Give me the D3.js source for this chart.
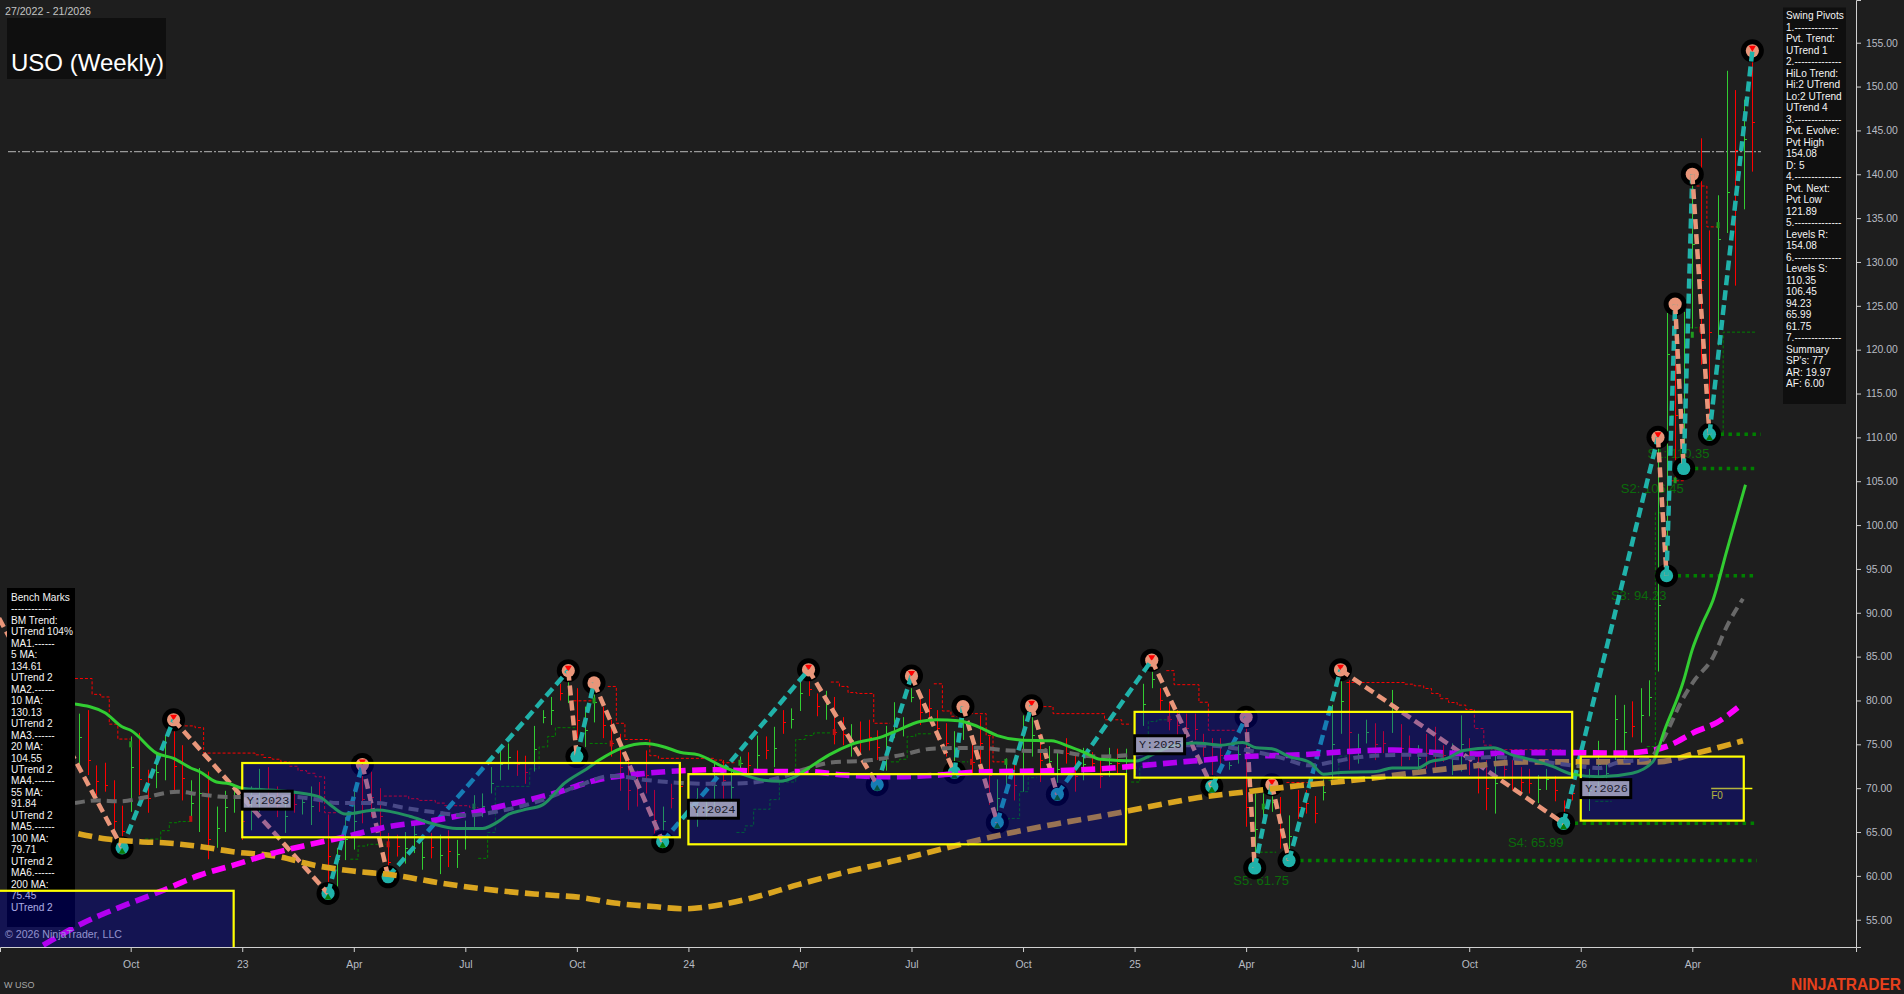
<!DOCTYPE html>
<html>
<head>
<meta charset="utf-8">
<title>USO (Weekly)</title>
<script src="https://cdn.jsdelivr.net/npm/d3@7"></script>
<style>
  html, body { margin: 0; padding: 0; background: #1e1e1e; overflow: hidden; }
  text { font-family: "Liberation Sans", Arial, sans-serif; }
</style>
</head>
<body>
<div id="chart"></div>
<script>
// weeks are counted from the Oct 2022 tick
var xTickWeeks = [0, 13, 26, 39, 52, 65, 78, 91, 104, 117, 130, 143, 156, 169, 182];
var xTickLabels = ["Oct", "23", "Apr", "Jul", "Oct", "24", "Apr", "Jul", "Oct", "25", "Apr", "Jul", "Oct", "26", "Apr"];
var yTicks = [55, 60, 65, 70, 75, 80, 85, 90, 95, 100, 105, 110, 115, 120, 125, 130, 135, 140, 145, 150, 155];

// weekly bars, first bar is week -6
var firstBarWeek = -6;
var barDir = [
  "grrrrr",                                   // -6..-1
  "grrggrrggr", "gggrggrrgr", "ggrrgggrrr",   // 0..29
  "rrgggrgrgg", "gggggrrggg", "rgrggrrrrr",   // 30..59
  "rrgrrggggr", "ggrgrgrggr", "rgrrgrrrgg",   // 60..89
  "ggrrrrggrr", "rggrggrggr", "rgrrgrgggg",   // 90..119
  "rrrrrrrrgg", "rgggrgrrrg", "ggrggrrgrr",   // 120..149
  "grrrggrrrg", "rrrrggrrrg", "gggggrgggg",   // 150..179
  "rggrrggrgr"                                // 180..189
].join("");

var barHigh = [78.5, 78.9, 72.6, 72.9, 70.9, 68.0,
  75.9, 76.3, 72.1, 74.0, 76.0, 77.4, 74.9, 70.9, 72.3, 71.9,
  67.9, 69.7, 70.2, 69.4, 70.2, 72.2, 72.4, 70.2, 68.6, 69.4,
  69.0, 70.2, 70.7, 67.0, 63.2, 66.7, 70.0, 72.7, 71.9, 70.0,
  64.9, 64.7, 65.0, 66.0, 63.9, 64.9, 64.7, 65.2, 64.1, 66.3,
  69.2, 69.4, 72.4, 74.5, 75.1, 74.3, 73.7, 77.1, 78.9, 80.4,
  81.9, 83.3, 81.4, 79.3, 81.7, 79.3, 77.8, 76.2, 73.2, 72.0,
  74.3, 69.8, 67.9, 70.5, 72.0, 70.0, 70.0, 68.6, 72.9, 73.2,
  72.2, 73.6, 74.1, 76.0, 75.9, 77.0, 78.9, 79.1, 82.9, 82.3,
  80.8, 81.1, 80.4, 78.1, 77.3, 77.6, 77.8, 76.6, 77.1, 79.8,
  78.1, 81.4, 81.0, 81.3, 78.9, 77.4, 76.5, 79.3, 75.5, 78.3,
  75.9, 71.0, 73.4, 73.0, 78.3, 78.7, 76.2, 74.8, 74.0, 75.7,
  73.8, 74.6, 74.1, 73.2, 74.6, 74.5, 74.5, 75.0, 81.9, 83.3,
  81.4, 79.8, 78.9, 78.5, 78.5, 76.2, 75.7, 75.7, 73.0, 74.9,
  78.1, 69.4, 69.4, 69.8, 69.0, 66.9, 69.8, 69.8, 69.1, 71.0,
  79.5, 83.5, 82.3, 76.2, 77.8, 77.4, 76.5, 81.2, 77.3, 76.0,
  74.9, 76.2, 77.0, 74.9, 75.1, 78.3, 75.7, 73.6, 73.2, 74.3,
  73.6, 73.2, 72.4, 72.2, 71.5, 72.2, 71.4, 68.6, 70.5, 73.7,
  72.2, 75.4, 72.8, 80.6, 79.5, 79.9, 81.4, 82.3, 109.7, 124.2,
  125.2, 124.3, 140.0, 144.1, 133.6, 137.6, 151.8, 149.6, 148.5, 154.1];

var barLow = [72.6, 71.5, 69.2, 69.6, 64.9, 64.3,
  67.3, 69.2, 67.2, 70.0, 70.9, 69.6, 68.6, 66.5, 65.0, 61.9,
  63.2, 65.0, 67.2, 64.1, 65.2, 67.3, 67.9, 66.7, 64.9, 67.2,
  67.0, 65.8, 67.3, 58.0, 58.8, 61.8, 63.0, 66.0, 66.7, 64.5,
  60.0, 62.2, 61.4, 62.6, 60.7, 62.0, 60.2, 61.0, 60.9, 63.0,
  65.6, 66.7, 69.4, 70.9, 72.1, 71.4, 70.5, 71.9, 77.4, 77.2,
  80.0, 79.7, 75.7, 74.7, 77.5, 75.7, 73.6, 69.7, 67.5, 67.9,
  69.4, 64.6, 64.8, 67.7, 68.0, 66.5, 65.6, 66.4, 67.9, 68.8,
  68.3, 71.7, 71.5, 71.7, 73.3, 72.4, 76.2, 76.8, 78.8, 80.5,
  78.2, 77.8, 75.0, 74.9, 73.6, 74.0, 74.3, 73.2, 72.0, 75.7,
  75.9, 79.8, 77.2, 77.6, 75.5, 73.6, 72.4, 75.5, 71.7, 72.8,
  68.1, 66.7, 70.2, 68.6, 69.6, 73.6, 70.7, 71.5, 70.3, 72.8,
  69.6, 70.9, 71.9, 70.0, 71.3, 71.7, 71.5, 71.5, 77.1, 81.4,
  78.9, 76.6, 75.9, 75.7, 75.5, 73.6, 71.5, 72.4, 72.1, 72.8,
  65.6, 62.2, 66.4, 67.3, 63.1, 62.7, 66.5, 67.1, 66.0, 68.6,
  71.0, 76.2, 72.1, 72.8, 75.1, 73.2, 74.0, 76.3, 72.5, 73.2,
  72.0, 72.2, 72.0, 73.0, 71.5, 71.9, 71.5, 69.4, 67.5, 67.1,
  71.1, 69.8, 69.2, 69.4, 68.3, 69.8, 68.5, 67.3, 68.6, 68.5,
  67.4, 70.2, 70.6, 73.2, 73.4, 75.8, 75.2, 78.2, 83.3, 94.3,
  105.0, 106.5, 122.4, 118.3, 110.4, 120.5, 133.3, 127.3, 136.0, 140.3];

var barClose = [75.8, 73.2, 70.8, 70.4, 66.2, 65.1,
  72.4, 71.0, 68.9, 71.8, 73.5, 72.5, 71.2, 68.3, 69.4, 64.2,
  65.5, 67.8, 69.0, 66.2, 67.4, 69.8, 69.1, 68.1, 66.8, 68.2,
  68.4, 68.0, 68.6, 62.3, 61.9, 64.2, 66.3, 68.8, 69.0, 66.8,
  61.6, 63.4, 63.2, 64.8, 62.2, 63.3, 62.4, 62.8, 62.5, 64.6,
  67.5, 68.0, 70.6, 72.7, 73.6, 72.8, 71.9, 74.5, 78.1, 78.9,
  80.9, 81.5, 77.8, 76.6, 79.8, 77.2, 75.1, 72.4, 69.8, 70.1,
  71.5, 66.4, 66.3, 68.9, 70.3, 68.2, 67.9, 67.5, 70.4, 70.9,
  70.1, 72.9, 72.6, 73.8, 74.4, 74.6, 77.6, 77.9, 80.8, 81.3,
  79.4, 79.6, 76.4, 76.2, 75.5, 75.4, 75.8, 74.7, 74.4, 77.8,
  77.0, 80.4, 78.7, 79.1, 76.9, 75.2, 74.3, 77.6, 73.0, 75.1,
  71.5, 68.9, 71.8, 70.4, 74.2, 76.1, 73.2, 73.1, 72.2, 74.0,
  71.4, 72.7, 72.9, 71.4, 72.9, 72.9, 72.8, 73.2, 79.6, 82.4,
  80.0, 77.9, 77.2, 76.9, 76.8, 74.7, 73.2, 73.8, 72.6, 73.9,
  67.9, 65.4, 67.9, 68.4, 65.0, 64.6, 67.8, 68.3, 67.2, 69.6,
  75.0, 79.9, 76.4, 74.5, 76.4, 75.0, 75.1, 78.8, 74.6, 74.6,
  73.4, 74.0, 74.3, 73.8, 73.3, 75.0, 73.4, 71.3, 70.0, 70.6,
  72.2, 71.3, 70.7, 70.6, 69.9, 71.0, 69.8, 67.9, 69.5, 71.0,
  69.8, 72.8, 71.7, 77.9, 76.4, 77.1, 78.3, 80.4, 90.9, 119.5,
  112.5, 115.4, 132.0, 128.0, 122.0, 132.6, 138.0, 142.8, 144.0, 146.0];

// the few thicker bar bodies
var bodyWeeks = [0, 7, 30, 40, 54, 56, 71, 82, 98, 102, 121, 132, 180, 182, 183, 185];
var bodyValues = [75.0, 66.5, 63.6, 67.9, 80.0, 75.1, 72.9, 76.4, 73.0, 73.0, 77.9, 67.9, 105.1, 121.7, 122.3, 134.2];
var bodyDir = "grrggrgrrgrgggrg";

// swing pivots, high and low take turns
var pivotWeeks = [-17, -1, 5, 23, 27, 30, 51, 52, 54, 62, 79, 87, 91, 96, 97, 101, 105, 108, 119, 126, 130, 131, 133, 135, 141, 167, 178, 179, 180, 181, 182, 184, 189];
var pivotValues = [92.4, 63.2, 77.8, 58.0, 72.7, 59.9, 83.4, 73.6, 82.0, 63.9, 83.5, 70.4, 82.8, 71.8, 79.3, 66.1, 79.4, 69.3, 84.6, 70.2, 78.1, 60.9, 70.4, 61.75, 83.5, 65.99, 110.0, 94.23, 125.2, 106.45, 140.0, 110.35, 154.08];
var pivotTriangles = [-1, 5, 23, 27, 51, 62, 79, 87, 91, 96, 101, 105, 108, 119, 126, 133, 141, 167, 178, 184, 189];

// moving averages
var ma20Weeks = [-6.5, -3, -1, 0, 3, 5, 7, 8, 10, 11.5, 13, 18.5, 22, 23.5, 25, 28.7, 32.5, 35, 38, 41, 43, 44, 45.7, 48, 50.6, 53.3, 54.6, 57.3, 60, 62.2, 64, 66.2, 69, 71, 73.8, 75.6, 77.4, 79, 81.4, 84, 87.7, 89.4, 92, 93.9, 96.5, 98.8, 101, 103.7, 107.3, 109.5, 111.3, 113, 117.2, 119, 121, 124.2, 127, 129.6, 131.2, 133, 135, 137.5, 139, 141, 145.2, 147, 150, 151.4, 153.4, 155.3, 158.8, 161, 163.4, 165.8, 168, 171.2, 175, 177.4, 178.8, 181, 182, 183.2, 184.4, 186, 188.2];
var ma20Values = [79.6, 78.6, 77.0, 76.6, 74.0, 73.4, 72.3, 71.9, 70.7, 70.5, 70.0, 69.6, 69.0, 67.9, 67.05, 67.5, 66.8, 66.0, 65.4, 65.4, 66.3, 67.0, 67.5, 68.1, 70.6, 72.3, 73.2, 74.6, 75.1, 74.7, 74.1, 73.8, 72.45, 71.7, 70.9, 70.8, 71.3, 72.3, 73.8, 75.0, 75.9, 76.6, 77.6, 77.8, 77.7, 77.0, 76.0, 75.5, 75.4, 74.7, 74.0, 73.3, 73.1, 73.8, 74.7, 75.15, 74.9, 75.2, 74.6, 74.5, 73.6, 72.9, 71.6, 71.8, 71.9, 72.3, 72.3, 73.0, 73.4, 74.3, 74.6, 73.8, 73.2, 72.45, 71.6, 71.3, 71.7, 73.0, 76.7, 82.3, 85.8, 88.8, 91.4, 97.0, 104.6];

var ma55Weeks = [-6.5, -4, -1.2, 1.4, 5.4, 8, 11.2, 18.9, 22, 24, 28.7, 31.7, 35, 39.2, 43, 47.5, 52, 56, 60.4, 64, 68, 72, 75.6, 78.7, 81.4, 86.3, 89.9, 93.4, 98.8, 102.4, 107.7, 112.6, 116.8, 123, 126.6, 129.6, 133.6, 137.4, 140.1, 143.3, 148, 151.8, 154.9, 158.8, 163, 168, 171.2, 173.2, 177, 178.6, 180.9, 182.1, 184.4, 186, 187.9];
var ma55Values = [68.3, 68.6, 68.5, 68.9, 69.6, 69.3, 69.0, 69.0, 68.65, 68.3, 68.3, 67.8, 67.3, 66.9, 67.4, 68.5, 70.2, 71.4, 70.9, 70.6, 70.5, 70.6, 71.2, 72.2, 72.9, 73.2, 73.8, 74.5, 74.6, 74.3, 74.2, 73.6, 73.8, 74.9, 74.8, 74.4, 73.6, 72.6, 73.0, 73.55, 73.8, 73.8, 73.4, 73.55, 73.2, 72.6, 72.3, 72.9, 73.4, 75.6, 80.2, 82.1, 84.9, 88.4, 91.6];

var ma100Weeks = [-10.2, -5.6, -1.6, 3.4, 8.1, 11.9, 15.9, 20.5, 25.2, 29.4, 35.2, 39.9, 43, 49.3, 54.6, 59.1, 62.6, 68, 74.3, 78.7, 83.1, 89, 94.3, 98.8, 107.7, 113, 118, 123.8, 129.6, 136.3, 142.1, 147.1, 152.6, 156.9, 161.6, 167.4, 174, 176.7, 179, 182.5, 184.9, 187.3];
var ma100Values = [52.1, 54.6, 56.3, 58.2, 60.1, 61.2, 62.4, 63.5, 64.5, 65.5, 66.3, 67.2, 67.9, 69.4, 71.0, 71.6, 71.9, 72.1, 71.9, 71.9, 71.5, 71.3, 71.5, 71.85, 72.0, 72.2, 72.6, 73.1, 73.6, 73.8, 74.2, 74.35, 74.05, 73.9, 74.05, 74.05, 74.0, 74.2, 74.75, 76.5, 77.5, 79.2];

var ma200Weeks = [-6.1, -2.8, 1.1, 4.2, 8.4, 11.9, 16.6, 22, 25.9, 30.6, 36, 43, 47.5, 52.8, 56.4, 60.9, 64.5, 67.1, 69.8, 72.5, 77.8, 83.2, 88.5, 94.3, 99.7, 107.7, 113, 118.8, 124.3, 130.1, 136.3, 142.5, 149.1, 155.7, 162.7, 169.7, 177.9, 182.5, 187.9];
var ma200Values = [64.8, 64.2, 63.9, 63.75, 63.3, 62.75, 62.3, 61.1, 60.55, 60.1, 59.2, 58.3, 57.9, 57.5, 56.9, 56.5, 56.25, 56.45, 56.9, 57.5, 59.0, 60.4, 61.6, 63.0, 64.3, 65.9, 66.8, 67.9, 68.9, 69.6, 70.3, 70.9, 71.7, 72.45, 73.0, 73.0, 73.0, 74.0, 75.4];

// stepped dashed lines, null starts a new piece
var redStepWeeks = [-6.5, -4.5, -3.5, -2.5, -1.5, 0, null,
  6.3, 7.5, 8.5, 14.5, 15.5, 16.5, 17.5, 18.5, 19.5, 20.5, 21.5, 22.6, 24, null,
  29.5, 32.4, 33.5, 35.5, 36.6, 39.5, 40.5, null,
  51.6, 53.7, null,
  55.6, 56.6, 57.6, 60.5, 61.5, 68, 69, 70.4, null,
  81.6, 82.6, 83.6, 84.6, 86.6, 88.5, null,
  93.6, 94.6, 95.6, 96.6, null,
  97.8, 99.7, 100.5, 101.9, null,
  105.8, 107.5, 113.5, 115.5, 116.6, null,
  120.7, 121.6, 124.5, 125.6, 129.3, null,
  134.7, 137.9, null,
  141.7, 148.5, 149.6, 150.7, 151.6, 152.6, 153.6, 154.6, 155.6, 156.6, 157.7, 158.6, 166.7, null,
  179.5, 181, null,
  182.5, 183.7, 185];
var redStepValues = [82.5, 80.7, 80.4, 77.3, 75.6, 75.6, null,
  77.1, 76.9, 74, 73.8, 73.5, 73.3, 73, 72.5, 72, 71.7, 71.3, 67.2, 67.2, null,
  69.1, 68.8, 68.6, 68.3, 68, 67.8, 67.8, null,
  79.96, 79.96, null,
  81.6, 77.4, 75.55, 73.7, 73.4, 73.2, 72.9, 72.9, null,
  82.1, 81.6, 80.9, 80.8, 77.4, 77.4, null,
  81.9, 78.8, 78.2, 78.2, null,
  78.5, 76.0, 73, 73, null,
  79.3, 78.5, 77.8, 77.3, 77.3, null,
  83.4, 81.8, 79.8, 76.6, 76.4, null,
  70.65, 70.65, null,
  82.05, 81.86, 81.67, 81.37, 80.8, 80.2, 79.77, 79.47, 78.97, 76.8, 74.9, 74.4, 74.4, null,
  105.05, 105.05, null,
  138.66, 134, 134];

var greenStepWeeks = [1.7, 3.5, 4.5, 5.6, 6.9, null,
  25.6, 26.5, 27.6, 29.8, null,
  40.5, 41.6, 42.5, 46.5, 47.6, 48.6, 49.5, 50.6, 51.8, null,
  53.5, 55.5, null,
  70.6, 71.6, 72.6, 74.5, 75.6, 77.5, 78.6, 79.6, 81.5, null,
  88.6, 89.6, 90.5, 91.5, 93.5, null,
  96.3, 97.6, null,
  101.3, 102.3, 103.6, 104.6, 105.6, null,
  116.6, 117.6, 118.6, 119.6, 120.9, null,
  131, 133.5, null,
  139.6, 140.8, 141.7, null,
  170.7, 172.6, null,
  176.7, 177.7, 178.6, null,
  179.5, 181, null,
  181.7, 182.6, null,
  184.5, 185.6, 189.5];
var greenStepValues = [64.2, 65.15, 66.06, 66.2, 66.2, null,
  61.9, 63.4, 63.6, 63.6, null,
  62, 64.95, 70.2, 72.2, 74.7, 75.9, 76.9, 76.9, 76.9, null,
  75.1, 75.1, null,
  64.95, 65.7, 67.6, 68.7, 70.7, 75.55, 76, 76.3, 76.3, null,
  73, 73.3, 75.9, 76.2, 76.2, null,
  73, 73, null,
  66.2, 66.55, 69.6, 71.2, 71.2, null,
  70.7, 72.45, 77.6, 77.8, 78, null,
  62.7, 62.7, null,
  70.9, 73.65, 73.8, null,
  68.5, 68.5, null,
  74.75, 101.4, 101.4, null,
  112.5, 112.5, null,
  122.5, 122.5, null,
  110.4, 122, 122];

// yearly range boxes
var boxNames = ["", "Y:2023", "Y:2024", "Y:2025", "Y:2026"];
var boxStart = [-20, 13, 65, 117, 169];
var boxEnd = [12, 64, 116, 168, 188];
var boxHigh = [58.3, 72.87, 71.6, 78.7, 73.6];
var boxLow = [49, 64.4, 63.6, 71.2, 66.3];

// support levels
var levelNames = ["S1: 110.35", "S2: 106.45", "S3: 94.23", "S4: 65.99", "S5: 61.75"];
var levelValues = [110.35, 106.45, 94.23, 65.99, 61.75];
var levelStart = [184, 181, 179, 167, 135];
var levelEnd = [190, 189.5, 189.5, 189.5, 189.5];

var pivotLine = 142.57;
var fibValue = 69.95;

var benchLines = ["Bench Marks", "------------", "BM Trend:", "UTrend 104%", "MA1.------", "5 MA:", "134.61", "UTrend 2",
  "MA2.------", "10 MA:", "130.13", "UTrend 2", "MA3.------", "20 MA:", "104.55", "UTrend 2",
  "MA4.------", "55 MA:", "91.84", "UTrend 2", "MA5.------", "100 MA:", "79.71", "UTrend 2",
  "MA6.------", "200 MA:", "75.45", "UTrend 2"];
var swingLines = ["Swing Pivots", "1.-------------", "Pvt. Trend:", "UTrend 1", "2.--------------", "HiLo Trend:", "Hi:2 UTrend", "Lo:2 UTrend", "UTrend 4",
  "3.--------------", "Pvt. Evolve:", "Pvt High", "154.08", "D: 5", "4.--------------", "Pvt. Next:", "Pvt Low", "121.89",
  "5.--------------", "Levels R:", "154.08", "6.--------------", "Levels S:", "110.35", "106.45", "94.23", "65.99", "61.75",
  "7.--------------", "Summary", "SP's: 77", "AR: 19.97", "AF: 6.00"];

var svgWidth = 1904;
var svgHeight = 994;
var plotRight = 1856;
var plotBottom = 947;

var svg = d3.select("#chart").append("svg")
  .attr("width", svgWidth)
  .attr("height", svgHeight)
  .style("display", "block")
  .style("background", "#1e1e1e");

svg.append("clipPath").attr("id", "plotClip")
  .append("rect").attr("x", 0).attr("y", 0).attr("width", plotRight).attr("height", plotBottom);

var x = d3.scaleLinear().domain([-15.233, 201.08]).range([0, plotRight]);
var y = d3.scaleLinear().domain([51.89, 159.87]).range([plotBottom, 0]);

// the level labels sit under the marks, and outside the clipped group
var levelLabels = svg.append("g");
var plot = svg.append("g").attr("clip-path", "url(#plotClip)");

// horizontal dash-dot line
plot.append("line")
  .attr("x1", 8).attr("x2", x(190))
  .attr("y1", y(pivotLine)).attr("y2", y(pivotLine))
  .attr("stroke", "#999").attr("stroke-width", 1.3)
  .attr("stroke-dasharray", "8,2,2,2");

// step lines
function stepPath(weeks, values) {
  var pts = weeks.map(function(w, i) { return [w, values[i]]; });
  return d3.line()
    .defined(function(d) { return d[0] !== null; })
    .x(function(d) { return x(d[0]); })
    .y(function(d) { return y(d[1]); })
    .curve(d3.curveStepAfter)(pts);
}
plot.append("path").attr("d", stepPath(redStepWeeks, redStepValues))
  .attr("fill", "none").attr("stroke", "#ff0000").attr("stroke-width", 1).attr("stroke-dasharray", "3,2");
plot.append("path").attr("d", stepPath(greenStepWeeks, greenStepValues))
  .attr("fill", "none").attr("stroke", "#008000").attr("stroke-width", 1).attr("stroke-dasharray", "3,2");

// bars
var barColor = { g: "#32cd32", r: "#ff0000" };
var bars = plot.append("g");
barHigh.forEach(function(h, i) {
  var week = firstBarWeek + i;
  var px = Math.round(x(week)) + 0.5;
  var col = barColor[barDir[i]];
  bars.append("line")
    .attr("x1", px).attr("x2", px)
    .attr("y1", y(h)).attr("y2", y(barLow[i]))
    .attr("stroke", col).attr("stroke-width", 1);
  bars.append("line")
    .attr("x1", px).attr("x2", px + 2.5)
    .attr("y1", Math.round(y(barClose[i])) + 0.5).attr("y2", Math.round(y(barClose[i])) + 0.5)
    .attr("stroke", col).attr("stroke-width", 1);
});
bodyWeeks.forEach(function(w, i) {
  bars.append("rect")
    .attr("x", x(w) - 1.5).attr("y", y(bodyValues[i]) - 3)
    .attr("width", 3).attr("height", 6)
    .attr("fill", bodyDir[i] === "g" ? "#1f9c1f" : "#c01010");
});

// dotted support levels
levelValues.forEach(function(v, i) {
  plot.append("line")
    .attr("x1", x(levelStart[i]) + 3).attr("x2", x(levelEnd[i]))
    .attr("y1", y(v)).attr("y2", y(v))
    .attr("stroke", "#008000").attr("stroke-width", 3.5)
    .attr("stroke-dasharray", "3.5,4.5");
  levelLabels.append("text")
    .attr("x", x(levelStart[i])).attr("y", y(v) + 24)
    .attr("text-anchor", "end")
    .attr("font-size", "13px")
    .attr("fill", "#0b6b0b")
    .text(levelNames[i]);
});

// pivot markers
pivotWeeks.forEach(function(w, i) {
  var isHigh = i % 2 === 0;
  var px = x(w);
  var py = y(pivotValues[i]);
  plot.append("circle").attr("cx", px).attr("cy", py).attr("r", 11.5).attr("fill", "#000");
  plot.append("circle").attr("cx", px).attr("cy", py).attr("r", 6.6)
    .attr("fill", isHigh ? "#e9967a" : "#20b2aa");
  if (pivotTriangles.indexOf(w) >= 0) {
    var tri = isHigh
      ? [[px - 3.5, py - 5], [px + 3.5, py - 5], [px, py + 1]]
      : [[px - 3.5, py + 6], [px + 3.5, py + 6], [px, py]];
    plot.append("polygon")
      .attr("points", tri.join(" "))
      .attr("fill", isHigh ? "#ff0000" : "#0a7a0a");
  }
});

// swing legs
for (var i = 0; i < pivotWeeks.length - 1; i++) {
  var goingUp = pivotValues[i + 1] > pivotValues[i];
  plot.append("line")
    .attr("x1", x(pivotWeeks[i])).attr("y1", y(pivotValues[i]))
    .attr("x2", x(pivotWeeks[i + 1])).attr("y2", y(pivotValues[i + 1]))
    .attr("stroke", goingUp ? "#20b2aa" : "#e9967a")
    .attr("stroke-width", 4.5)
    .attr("stroke-dasharray", "10,5");
}

// moving averages
function maPath(weeks, values) {
  var pts = weeks.map(function(w, i) { return [w, values[i]]; });
  return d3.line()
    .x(function(d) { return x(d[0]); })
    .y(function(d) { return y(d[1]); })
    .curve(d3.curveMonotoneX)(pts);
}
plot.append("path").attr("d", maPath(ma200Weeks, ma200Values))
  .attr("fill", "none").attr("stroke", "#daa520").attr("stroke-width", 5.6).attr("stroke-dasharray", "14,6.5");
plot.append("path").attr("d", maPath(ma100Weeks, ma100Values))
  .attr("fill", "none").attr("stroke", "#ff00ff").attr("stroke-width", 5.6).attr("stroke-dasharray", "14,6.5");
plot.append("path").attr("d", maPath(ma55Weeks, ma55Values))
  .attr("fill", "none").attr("stroke", "#696969").attr("stroke-width", 4).attr("stroke-dasharray", "10,6");
plot.append("path").attr("d", maPath(ma20Weeks, ma20Values))
  .attr("fill", "none").attr("stroke", "#32cd32").attr("stroke-width", 3);

// F0 line of the current year
plot.append("line")
  .attr("x1", x(184.2)).attr("x2", x(189))
  .attr("y1", y(fibValue)).attr("y2", y(fibValue))
  .attr("stroke", "#ffff00").attr("stroke-width", 1.5);
plot.append("text")
  .attr("x", x(184.2)).attr("y", y(fibValue) + 10)
  .attr("font-size", "10px").attr("fill", "#ffff00")
  .text("F0");

// black info panel on the left, the 2022 box paints over it
svg.append("rect").attr("x", 7).attr("y", 588).attr("width", 68).attr("height", 339).attr("fill", "#000");
var benchText = svg.append("g");
benchLines.forEach(function(t, i) {
  benchText.append("text")
    .attr("x", 11).attr("y", 600.8 + i * 11.48)
    .attr("font-size", "10.1px").attr("fill", "#f4f4f4")
    .text(t);
});

svg.append("text").attr("x", 5).attr("y", 938)
  .attr("font-size", "10.6px").attr("fill", "#d0d0d0")
  .text("\u00a9 2026 NinjaTrader, LLC");

// yearly boxes over everything, translucent blue
var boxes = svg.append("g").attr("clip-path", "url(#plotClip)");
boxStart.forEach(function(s, i) {
  boxes.append("rect")
    .attr("x", x(s)).attr("y", y(boxHigh[i]))
    .attr("width", x(boxEnd[i]) - x(s)).attr("height", y(boxLow[i]) - y(boxHigh[i]))
    .attr("fill", "#0000cd").attr("fill-opacity", 0.3)
    .attr("stroke", "#ffff00").attr("stroke-width", 2.2);
  if (boxNames[i] !== "") {
    var mid = y((boxHigh[i] + boxLow[i]) / 2);
    boxes.append("rect")
      .attr("x", x(s)).attr("y", mid - 9)
      .attr("width", 50).attr("height", 18)
      .attr("fill", "#b6b6ce").attr("fill-opacity", 0.8)
      .attr("stroke", "#000").attr("stroke-width", 3);
    boxes.append("text")
      .attr("x", x(s) + 4.5).attr("y", mid + 3.5)
      .style("font-family", "'Liberation Mono', monospace")
      .attr("font-size", "11.8px").attr("fill", "#1a1a2a")
      .text(boxNames[i]);
  }
});

// axes
var xAxis = d3.axisBottom(x)
  .tickValues(xTickWeeks)
  .tickFormat(function(d, i) { return xTickLabels[i]; })
  .tickSizeOuter(0).tickSize(5);
var yAxis = d3.axisRight(y)
  .tickValues(yTicks)
  .tickFormat(d3.format(".2f"))
  .tickSizeOuter(0).tickSize(5);

var xAxisG = svg.append("g").attr("transform", "translate(0," + plotBottom + ")").call(xAxis);
var yAxisG = svg.append("g").attr("transform", "translate(" + plotRight + ",0)").call(yAxis);
[xAxisG, yAxisG].forEach(function(g) {
  g.selectAll("path,line").attr("stroke", "#d0d0d0");
  g.selectAll("text")
    .attr("fill", "#b8bcc4")
    .attr("font-size", "10.4px")
    .style("font-family", "'Liberation Sans', Arial, sans-serif");
});
xAxisG.selectAll("text").attr("dy", "0").attr("y", 21);
yAxisG.selectAll("text").attr("x", 10);

// title and date range
svg.append("text").attr("x", 5).attr("y", 15)
  .attr("font-size", "10.6px").attr("fill", "#c4c4c4")
  .text("27/2022 - 21/2026");
svg.append("rect").attr("x", 7).attr("y", 18).attr("width", 159).attr("height", 61).attr("fill", "#0f0f0f");
svg.append("text").attr("x", 11).attr("y", 70.5)
  .attr("font-size", "24px").attr("fill", "#ffffff")
  .text("USO (Weekly)");

// swing pivots panel
svg.append("rect").attr("x", 1783).attr("y", 7.5).attr("width", 63).attr("height", 396.5).attr("fill", "#0f0f0f");
swingLines.forEach(function(t, i) {
  svg.append("text")
    .attr("x", 1786).attr("y", 19.3 + i * 11.5)
    .attr("font-size", "10.1px").attr("fill", "#f4f4f4")
    .text(t);
});

svg.append("text").attr("x", 4).attr("y", 988)
  .attr("font-size", "9px").attr("fill", "#a8a8a8")
  .text("W USO");

svg.append("text").attr("x", 1791).attr("y", 990)
  .attr("font-size", "16.5px").attr("font-weight", "bold")
  .attr("fill", "#e8401c")
  .attr("textLength", 110).attr("lengthAdjust", "spacingAndGlyphs")
  .text("NINJATRADER");
</script>
</body>
</html>
